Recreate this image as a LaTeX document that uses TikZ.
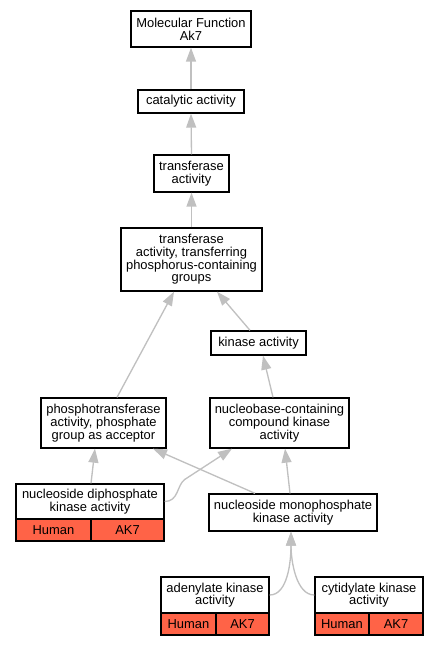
\documentclass[tikz,border=0pt]{standalone}
\usepackage{fontspec}
\setmainfont{Liberation Sans}
\usetikzlibrary{arrows.meta,calc}
\definecolor{edgegray}{HTML}{C0C0C0}
\definecolor{tomato}{HTML}{FF6347}
\tikzset{
  box/.style={draw=black, fill=white, line width=1pt, inner sep=0pt, align=center,
    font=\fontsize{9.7pt}{9.5pt}\selectfont},
  redcell/.style={box, fill=tomato},
  edge/.style={draw=edgegray, line width=1pt, -{Triangle[length=10.5pt,width=7.5pt]}}
}
\begin{document}
\begin{tikzpicture}[x=0.75pt,y=-0.75pt]
\useasboundingbox (0,0) rectangle (437,645);
\node[box, minimum width=90pt, minimum height=27pt] (mf) at (191,29) {Molecular Function\\Ak7};
\node[box, minimum width=79.5pt, minimum height=17.25pt] (cat) at (191,101.5) {catalytic activity};
\node[box, minimum width=56.25pt, minimum height=27.75pt] (tra) at (191.5,173.5) {transferase\\activity};
\node[box, minimum width=105.75pt, minimum height=47.25pt] (trp) at (191.5,259.5) {transferase\\activity, transferring\\phosphorus-containing\\groups};
\node[box, minimum width=71.25pt, minimum height=18pt] (kin) at (258.5,343) {kinase activity};
\node[box, minimum width=93.75pt, minimum height=37.5pt] (pho) at (103.5,423) {phosphotransferase\\activity, phosphate\\group as acceptor};
\node[box, minimum width=104.25pt, minimum height=37.5pt] (nbc) at (279.5,423) {nucleobase-containing\\compound kinase\\activity};
\node[box, minimum width=111pt, minimum height=26.25pt] (ndp) at (90,501.5) {nucleoside diphosphate\\kinase activity};
\node[redcell, minimum width=56.25pt, minimum height=16.5pt] (ndph) at (53.5,530) {Human};
\node[redcell, minimum width=54.75pt, minimum height=16.5pt] (ndpa) at (127.5,530) {AK7};
\node[box, minimum width=126pt, minimum height=27.75pt] (nmp) at (293,512.5) {nucleoside monophosphate\\kinase activity};
\node[box, minimum width=81pt, minimum height=27pt] (ade) at (215,595) {adenylate kinase\\activity};
\node[redcell, minimum width=41.25pt, minimum height=16.5pt] (adeh) at (188.5,624) {Human};
\node[redcell, minimum width=39.75pt, minimum height=16.5pt] (adea) at (242.5,624) {AK7};
\node[box, minimum width=81pt, minimum height=27pt] (cyt) at (369,595) {cytidylate kinase\\activity};
\node[redcell, minimum width=40.5pt, minimum height=16.5pt] (cyth) at (342,624) {Human};
\node[redcell, minimum width=40.5pt, minimum height=16.5pt] (cyta) at (396,624) {AK7};

\draw[edge] (cat.north) -- (mf.south);
\draw[edge] (tra.north) -- (cat.south);
\draw[edge] (trp.north) -- (tra.south);
\draw[edge] ($(pho.north)+(13.5,0)$) -- ($(trp.south)+(-17.5,0)$);
\draw[edge] ($(kin.north)+(-8.5,0)$) -- ($(trp.south)+(25.5,0)$);
\draw[edge] ($(nbc.north)+(-6.5,0)$) -- ($(kin.south)+(4.5,0)$);
\draw[edge] ($(ndp.north)+(1,0)$) -- ($(pho.south)+(-8.5,0)$);
\draw[edge] (ndp.east) .. controls +(14,0) and +(-8,6) .. ($(ndp.east)+(20,-22)$) -- ($(nbc.south)+(-47.5,0)$);
\draw[edge] ($(nmp.north)+(-38,0)$) -- ($(pho.south)+(49.5,0)$);
\draw[edge] ($(nmp.north)+(-3,0)$) -- ($(nbc.south)+(5.5,0)$);
\draw[edge] (ade.east) .. controls +(18,0) and +(0,30) .. ($(nmp.south)+(-2,0)$);
\draw[edge] (cyt.west) .. controls +(-18,0) and +(0,30) .. ($(nmp.south)+(-2,0)$);
\end{tikzpicture}
\end{document}
